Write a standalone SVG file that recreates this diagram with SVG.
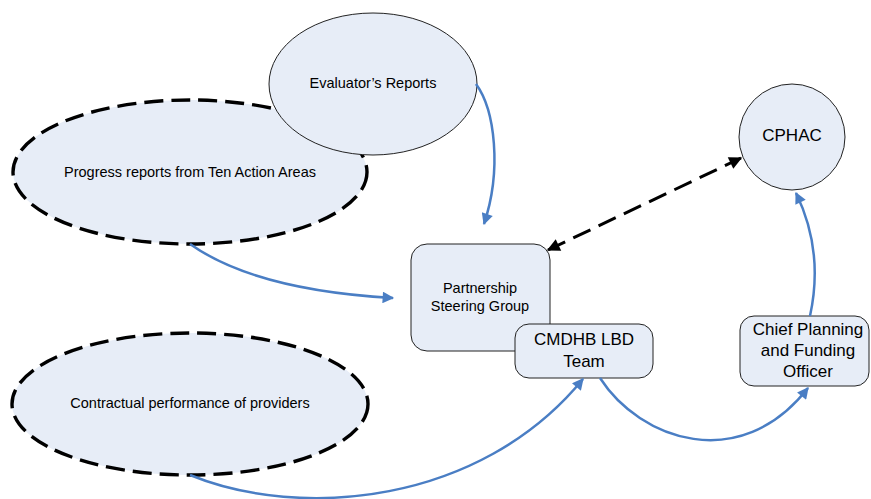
<svg xmlns="http://www.w3.org/2000/svg" width="871" height="499" viewBox="0 0 871 499">
<style>
.node{fill:#E7EDF7;stroke:#222;stroke-width:1}
.dash{fill:#E7EDF7;stroke:#000;stroke-width:3.4;stroke-dasharray:19 8}
text{font-family:"Liberation Sans",Arial,sans-serif;fill:#000;text-anchor:middle}
.s{font-size:14.5px}
.l{font-size:17px}
.blue{fill:none;stroke:#4A7EC4;stroke-width:2.5}
.blk{fill:none;stroke:#000;stroke-width:3;stroke-dasharray:19 9}
</style>
<defs>
<marker id="ab" viewBox="0 0 10 10" refX="9" refY="5" markerWidth="6" markerHeight="4.6" orient="auto" markerUnits="strokeWidth">
<path d="M0,0 L10,5 L0,10 z" fill="#4A7EC4"/>
</marker>
<marker id="ak" viewBox="0 0 10 10" refX="9" refY="5" markerWidth="5.5" markerHeight="4.3" orient="auto" markerUnits="strokeWidth">
<path d="M0,0 L10,5 L0,10 z" fill="#000"/>
</marker>
<marker id="aks" viewBox="0 0 10 10" refX="1" refY="5" markerWidth="5.5" markerHeight="4.3" orient="auto" markerUnits="strokeWidth">
<path d="M10,0 L0,5 L10,10 z" fill="#000"/>
</marker>
</defs>
<g id="progress">
<ellipse class="dash" cx="190" cy="172" rx="177" ry="72"/>
<text class="s" x="190" y="177">Progress reports from Ten Action Areas</text>
</g>
<g id="evaluator">
<ellipse class="node" cx="373" cy="84" rx="104" ry="71"/>
<text class="s" x="373" y="88">Evaluator’s Reports</text>
</g>
<g id="contractual">
<ellipse class="dash" cx="190" cy="404" rx="178" ry="71"/>
<text class="s" x="190" y="408">Contractual performance of providers</text>
</g>
<g id="psg">
<rect class="node" x="411" y="244" width="139" height="107" rx="16"/>
<text class="s" x="480" y="293">Partnership</text>
<text class="s" x="480" y="311">Steering Group</text>
</g>
<g id="cmdhb">
<rect class="node" x="515" y="324" width="138" height="54" rx="14"/>
<text class="l" x="584" y="345">CMDHB LBD</text>
<text class="l" x="584" y="367">Team</text>
</g>
<g id="cphac">
<circle class="node" cx="792" cy="137" r="53"/>
<text class="l" x="792" y="141">CPHAC</text>
</g>
<g id="chief">
<rect class="node" x="740" y="316" width="129" height="70" rx="14"/>
<text class="l" x="808" y="335">Chief Planning</text>
<text class="l" x="808" y="356">and Funding</text>
<text class="l" x="808" y="377">Officer</text>
</g>
<g id="connectors">
<path class="blue" d="M476,84 C495,110 502,170 484,224" marker-end="url(#ab)"/>
<path class="blue" d="M190,244 Q255,290 393,298" marker-end="url(#ab)"/>
<path class="blk" d="M548,250 L741,158" marker-start="url(#aks)" marker-end="url(#ak)"/>
<path class="blue" d="M810,316 C820,270 814,230 796,193" marker-end="url(#ab)"/>
<path class="blue" d="M190,475 C300,520 480,505 583,379" marker-end="url(#ab)"/>
<path class="blue" d="M600,378 C640,440 740,475 808,388" marker-end="url(#ab)"/>
</g>
</svg>
